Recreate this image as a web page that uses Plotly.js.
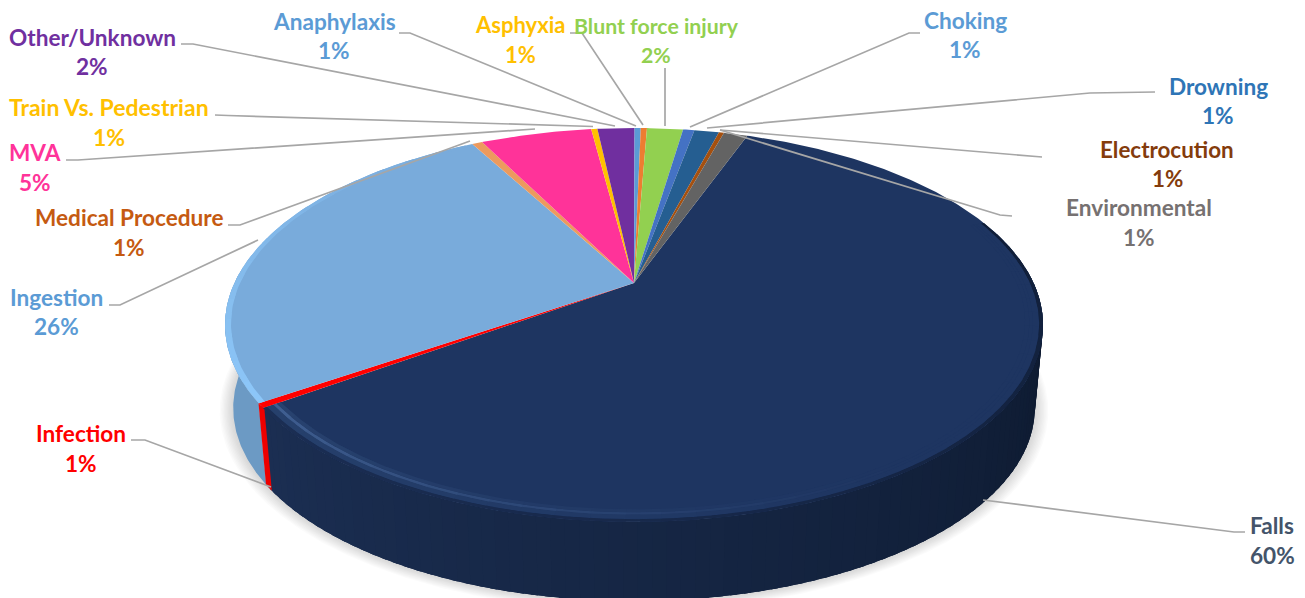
<!DOCTYPE html>
<html><head><meta charset="utf-8">
<script src="https://cdn.plot.ly/plotly-3.0.1.min.js"></script>
<style>html,body{margin:0;padding:0;background:#fff}#c{width:1305px;height:598px}</style>
</head><body><div id="c"></div>
<script>
// ---- data (clockwise from the Falls slice) ----
const categories = ["Falls","Infection","Ingestion","Medical Procedure","MVA","Train Vs. Pedestrian","Other/Unknown","Anaphylaxis","Asphyxia","Blunt force injury","Choking","Drowning","Electrocution","Environmental"];
const values = [59.57,0.38,26.55,0.5,5.4,0.3,1.8,0.3,0.3,1.75,0.55,1.2,0.25,1.15];
const percentLabels = ["60%","1%","26%","1%","5%","1%","2%","1%","1%","2%","1%","1%","1%","1%"];
const sliceColors = ["#1e3561","#ff0000","#79abdb","#ec9a5e","#ff3399","#ffc000","#702f9f","#5b9bd5","#ed7d31","#92d050","#4472c4","#255e91","#a5500f","#636363"];
const labelColors = ["#44546a","#ff0000","#5b9bd5","#c55a11","#ff3399","#ffc000","#7030a0","#5b9bd5","#ffc000","#92d050","#5b9bd5","#2e75b6","#843c0c","#767171"];
const labelSizes = [22.6,22.6,22.6,22.6,22.6,23,22.6,22.6,22,21.3,22.6,22.6,22.4,22.6];
const sideColors = {Infection:"#ee0000",Ingestion:"#6c9ac4"};

// ---- layout of the labels and leaders (pixels) ----
const labelPos = [[1272,525,555],[81,433,463],[56,297,326],[129,217,247],[35,152,182],[109,107,137],[92,37,66],[334,21,50],[520,24,54],[656,26,55],[965,20,49],[1218,86,115],[1167,149,178],[1139,207,237]];
const leaders = [
 [[1245,1234,983],[532,532,500]],
 [[131,145,271],[440,440,487]],
 [[109,120,258],[305,305,240]],
 [[228,240,470],[225,225,141]],
 [[66,78,535],[160,160,129]],
 [[215,228,593],[115,115.5,126.5]],
 [[181,193,615],[44,44,126]],
 [[399,410,636],[33,33,126]],
 [[570,582,643],[33,33,125]],
 [[665,665],[68,126]],
 [[920,909,690],[33,33,127]],
 [[1155,1090,707],[92,93,128]],
 [[1042,1030,720],[157,156,130]],
 [[1012,1000,720],[216,215,130]]
];
// projection of the pie disc
const cx=634, cy=283, A=399.6, B=188, K=0.213, DROP=84, S=0.98, START=19.9;

function pt(deg,r,z){
  const t=deg*Math.PI/180, u=r*Math.sin(t), v=r*Math.cos(t), w=1+K*v, s=1+(S-1)*z;
  return [cx+s*A*u/w, cy+DROP*z-s*B*v/w];
}
function arc(a0,a1,r,z){
  const n=Math.max(2,Math.ceil(Math.abs(a1-a0)/0.5)+1), o=[];
  for(let i=0;i<n;i++) o.push(pt(a0+(a1-a0)*i/(n-1),r,z));
  return o;
}
function poly(points,color){
  points=points.concat([points[0]]);
  return {type:"scatter",mode:"lines",x:points.map(p=>p[0]),y:points.map(p=>p[1]),fill:"toself",fillcolor:color,line:{width:0,color:color},hoverinfo:"skip",showlegend:false};
}
function mix(c1,c2,f){
  const h=c=>[1,3,5].map(i=>parseInt(c.substr(i,2),16)); const a=h(c1),b=h(c2);
  return "rgb("+a.map((x,i)=>Math.round(x+(b[i]-x)*f)).join(",")+")";
}
const total=values.reduce((a,b)=>a+b,0);
let cum=START; const spans=values.map(v=>{const s=[cum,cum+v/total*360];cum=s[1];return s;});
const traces=[];
// soft shadow under the pie
for(let i=10;i>=1;i--){
  const r=1+i*0.0032;
  traces.push(poly(arc(75,285,r,1.0).concat(arc(285,75,0.9,0.5)),"rgba(120,120,120,0.03)"));
}
// side walls
const ing=spans[2], inf=spans[1], fal=spans[0];
traces.push(poly(arc(ing[0],275,1,0).concat(arc(275,ing[0],1,1)),sideColors.Ingestion));
// Falls wall, shaded from right to left, overlapping so no seams show
const W=90;
for(let i=0;i<W;i++){
  const a0=85+(fal[1]-85)*i/W, a1=i==W-1?fal[1]:a0+(fal[1]-85)/W*2.5, f=i/(W-1);
  traces.push(poly(arc(a0,a1,1,0).concat(arc(a1,a0,1,1)),mix("#0c182c","#1b2e52",f)));
}
traces.push(poly(arc(inf[0]-0.35,inf[1]+0.1,1,0).concat(arc(inf[1]+0.1,inf[0]-0.35,1,1)),sideColors.Infection));
// top face
categories.forEach((c,i)=>{
  traces.push(poly([[cx,cy]].concat(arc(spans[i][0],spans[i][1],1,0)),sliceColors[i]));
});
// bevel on the Falls rim
const N=40;
for(let i=0;i<N;i++){
  const a0=70+(fal[1]-70)*i/N, a1=i==N-1?fal[1]:a0+(fal[1]-70)/N*1.6, f=i/(N-1);
  const hl=Math.pow(Math.max(0,f-0.45)/0.55,1.4);
  traces.push(poly(arc(a0,a1,0.991,0).concat(arc(a1,a0,0.976,0)),mix("#1e3561","#2c4874",hl*0.6)));
  traces.push(poly(arc(a0,a1,0.976,0).concat(arc(a1,a0,0.968,0)),mix("#1e3561","#3f5e90",hl)));
  traces.push(poly(arc(a0,a1,0.968,0).concat(arc(a1,a0,0.958,0)),mix("#1e3561","#28426f",hl)));
  traces.push(poly(arc(a0,a1,1.0,0).concat(arc(a1,a0,0.991,0)),mix("#101e38","#1b2e54",f)));
}
// bright bevel on the Ingestion rim
for(let i=0;i<16;i++){
  const a0=inf[1]+(330-inf[1])*i/16, a1=a0+(330-inf[1])/16*1.3, f=i/15;
  traces.push(poly(arc(a0,Math.min(a1,330),1.0,0).concat(arc(Math.min(a1,330),a0,0.986,0)),mix("#8cc6f8","#79abdb",f)));
}
// leaders
leaders.forEach(l=>traces.push({type:"scatter",mode:"lines",x:l[0],y:l[1],line:{color:"#a6a6a6",width:1.7},hoverinfo:"skip",showlegend:false}));

const annotations=[];
categories.forEach((c,i)=>{
  const p=labelPos[i], font={family:"Lato, Carlito, sans-serif",size:labelSizes[i],color:labelColors[i],weight:700};
  annotations.push({xref:"x",yref:"y",x:p[0],y:p[1],text:"<b>"+c+"</b>",showarrow:false,font:font,xanchor:"center",yanchor:"middle"});
  annotations.push({xref:"x",yref:"y",x:p[0],y:p[2],text:"<b>"+percentLabels[i]+"</b>",showarrow:false,font:font,xanchor:"center",yanchor:"middle"});
});
Plotly.newPlot("c",traces,{
  width:1305,height:598,margin:{l:0,r:0,t:0,b:0},paper_bgcolor:"#fff",plot_bgcolor:"#fff",showlegend:false,
  xaxis:{range:[0,1305],visible:false,fixedrange:true},
  yaxis:{range:[598,0],visible:false,fixedrange:true},
  annotations:annotations,hovermode:false
},{displayModeBar:false,staticPlot:true});
</script></body></html>
